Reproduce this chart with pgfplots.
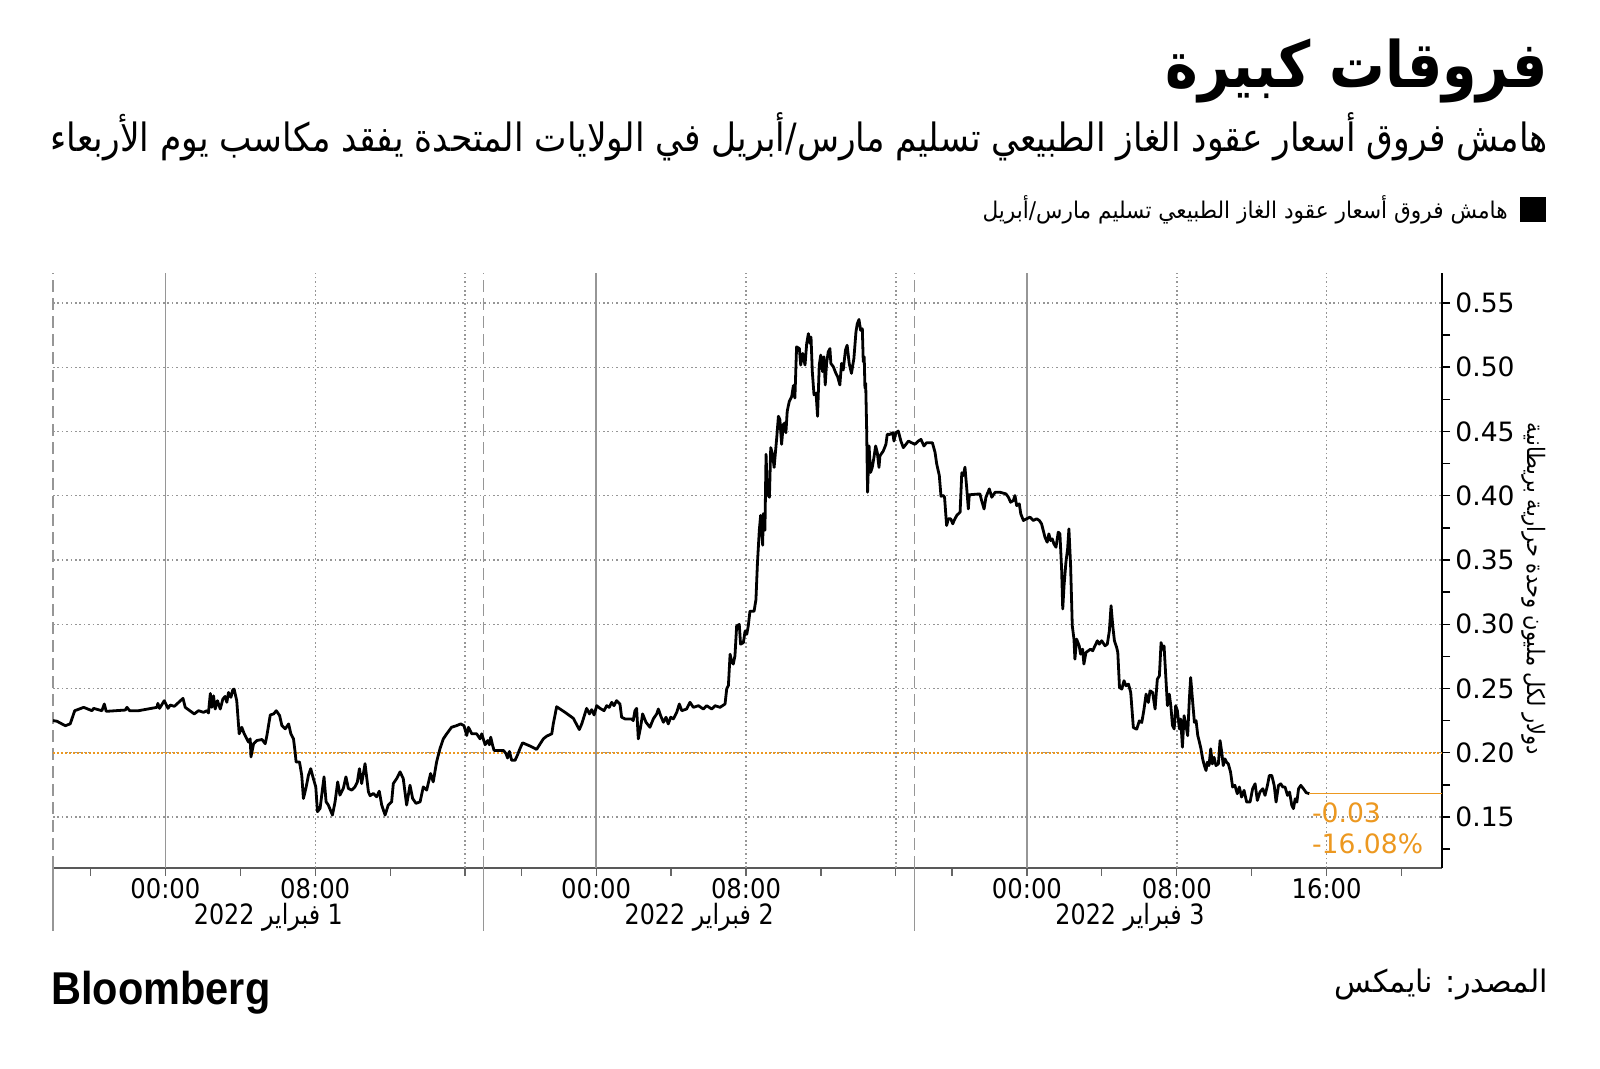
\documentclass[border=0pt]{standalone}
\usepackage{fontspec}
\usepackage{pgfplots}
\pgfplotsset{compat=1.18}
\usepackage{graphicx}
\setmainfont{DejaVu Sans}
\newfontfamily\arabicfont[Script=Arabic]{DejaVu Sans}
\newfontfamily\condfont{DejaVu Sans Condensed}
\newfontfamily\bbgfont{Liberation Sans}
\TeXXeTstate=1
\definecolor{bbgorange}{RGB}{236,152,32}
\definecolor{gridgray}{RGB}{150,150,150}
\newcommand\ar[1]{\arabicfont\beginR #1\endR}

\pgfplotstableread{
x y
0 0.225
0.21 0.2245
0.66 0.221
0.92 0.2225
1.16 0.2327
1.64 0.2353
2.08 0.2327
2.17 0.2345
2.61 0.2327
2.74 0.2379
2.84 0.2322
3.86 0.2332
3.95 0.2353
4.09 0.2327
4.57 0.2327
5.55 0.2353
5.6 0.2384
5.69 0.2345
5.94 0.2405
6.14 0.2345
6.26 0.2371
6.48 0.2361
6.94 0.2423
7.06 0.2353
7.54 0.2302
7.77 0.2327
8.04 0.2314
8.21 0.2327
8.3 0.2309
8.4 0.2461
8.48 0.2353
8.57 0.2443
8.66 0.234
8.78 0.2405
8.93 0.234
9.07 0.2418
9.19 0.2438
9.28 0.2392
9.37 0.2469
9.5 0.2431
9.6 0.249
9.67 0.2495
9.81 0.2405
9.94 0.2147
10.08 0.2198
10.21 0.2147
10.44 0.2082
10.53 0.2108
10.57 0.1967
10.71 0.2070
10.89 0.2095
11.16 0.2103
11.33 0.207
11.42 0.2134
11.6 0.2294
11.78 0.2302
11.92 0.2327
12.1 0.2289
12.22 0.2211
12.4 0.2186
12.58 0.2224
12.7 0.2147
12.84 0.2108
12.93 0.2
12.98 0.1928
13.16 0.1928
13.28 0.1825
13.37 0.1644
13.5 0.1722
13.64 0.1825
13.76 0.1876
13.9 0.1799
14.03 0.1734
14.12 0.1541
14.26 0.1567
14.37 0.1696
14.47 0.1812
14.58 0.1618
14.7 0.1593
14.92 0.1515
15.06 0.1618
15.2 0.1773
15.32 0.167
15.5 0.1722
15.64 0.1812
15.77 0.1722
15.95 0.1709
16.12 0.1734
16.25 0.1773
16.36 0.1876
16.48 0.176
16.66 0.1915
16.84 0.1696
16.93 0.1665
17.1 0.1683
17.28 0.1657
17.42 0.1701
17.55 0.1593
17.73 0.1515
17.9 0.1593
18.08 0.1618
18.17 0.176
18.35 0.1799
18.53 0.1851
18.7 0.1799
18.88 0.1593
19.06 0.1747
19.2 0.1644
19.38 0.1606
19.6 0.1618
19.77 0.1734
19.95 0.1709
20.16 0.1838
20.3 0.1773
20.48 0.1928
20.66 0.2031
20.84 0.2108
21.02 0.2147
21.28 0.2198
21.55 0.2211
21.77 0.2224
21.94 0.2211
22.09 0.2134
22.18 0.2198
22.36 0.2147
22.62 0.2147
22.8 0.2108
22.89 0.2147
23.07 0.2062
23.21 0.2095
23.3 0.2062
23.37 0.2121
23.48 0.2052
23.55 0.2018
24.05 0.2018
24.19 0.1992
24.27 0.1959
24.37 0.201
24.49 0.1941
24.67 0.1941
24.79 0.1979
24.93 0.2031
25.07 0.2077
25.47 0.2052
25.82 0.2026
26.18 0.2108
26.36 0.2129
26.63 0.2147
26.71 0.2224
26.89 0.2358
27.34 0.2314
27.78 0.2268
28.1 0.218
28.23 0.2224
28.49 0.2345
28.64 0.2302
28.76 0.2335
28.89 0.2294
29.03 0.2366
29.21 0.2345
29.42 0.2327
29.56 0.2366
29.7 0.2353
29.83 0.2392
29.95 0.2366
30.09 0.2405
30.27 0.2379
30.36 0.2276
30.54 0.2263
30.89 0.2263
30.98 0.225
31.07 0.2327
31.16 0.2345
31.25 0.2108
31.37 0.2198
31.48 0.2302
31.66 0.2237
31.87 0.2198
32.05 0.2263
32.23 0.2302
32.32 0.234
32.44 0.2289
32.59 0.2237
32.73 0.2276
32.85 0.2224
32.98 0.2276
33.12 0.2263
33.3 0.2314
33.44 0.2379
33.57 0.2327
33.83 0.234
34.01 0.2392
34.19 0.2353
34.46 0.2366
34.72 0.234
34.9 0.2366
35.17 0.234
35.35 0.2366
35.61 0.2353
35.88 0.2379
35.97 0.2497
36.06 0.2523
36.15 0.2767
36.24 0.2703
36.32 0.269
36.41 0.2754
36.5 0.2986
36.64 0.2998
36.71 0.2844
36.86 0.2857
36.95 0.2947
37.04 0.2921
37.12 0.2986
37.21 0.3101
37.43 0.3101
37.53 0.3191
37.61 0.3474
37.71 0.3731
37.78 0.3847
37.83 0.3757
37.89 0.3615
37.92 0.386
38.01 0.3731
38.07 0.4322
38.14 0.4014
38.25 0.3988
38.32 0.4374
38.42 0.4322
38.5 0.4220
38.64 0.4451
38.73 0.4618
38.81 0.4592
38.9 0.4400
38.99 0.4554
39.08 0.4567
39.13 0.4490
39.2 0.4657
39.31 0.4734
39.44 0.4772
39.53 0.4857
39.61 0.4760
39.7 0.5158
39.85 0.5145
39.92 0.5017
40.03 0.5107
40.15 0.5017
40.24 0.5184
40.33 0.5261
40.42 0.5184
40.47 0.5235
40.54 0.4965
40.63 0.4785
40.74 0.4798
40.82 0.4618
40.91 0.5017
40.99 0.5094
41.09 0.4965
41.16 0.5081
41.23 0.4862
41.3 0.5029
41.39 0.5119
41.48 0.5145
41.53 0.5029
41.66 0.5004
41.8 0.4952
41.89 0.4927
42.01 0.4862
42.1 0.5029
42.19 0.4978
42.31 0.5132
42.4 0.5171
42.51 0.5029
42.63 0.4952
42.76 0.5068
42.87 0.5274
42.94 0.5338
43.03 0.5371
43.12 0.5287
43.21 0.5299
43.26 0.5042
43.31 0.5081
43.35 0.4837
43.39 0.4875
43.44 0.4528
43.49 0.4027
43.57 0.4387
43.65 0.4181
43.74 0.4220
43.83 0.4297
43.92 0.4387
44.01 0.4335
44.1 0.4220
44.15 0.4310
44.33 0.4348
44.47 0.44
44.54 0.4477
44.68 0.4477
44.83 0.449
44.9 0.4425
45.0 0.449
45.13 0.4503
45.27 0.4425
45.4 0.4374
45.54 0.44
45.67 0.4425
45.84 0.4412
46.02 0.44
46.2 0.4425
46.34 0.4438
46.5 0.4387
46.64 0.4412
46.95 0.4412
47.09 0.4339
47.18 0.4248
47.32 0.4157
47.41 0.3996
47.54 0.4001
47.6 0.3988
47.71 0.3768
47.8 0.3820
47.93 0.382
48.04 0.3781
48.11 0.3807
48.25 0.3846
48.43 0.3872
48.52 0.4178
48.6 0.4157
48.69 0.4222
48.78 0.4066
48.87 0.3897
48.92 0.4007
49.49 0.4014
49.58 0.3962
49.71 0.3897
49.81 0.3988
49.99 0.4053
50.12 0.3988
50.3 0.4027
50.56 0.4027
50.88 0.4014
51.01 0.3988
51.13 0.3949
51.27 0.3962
51.36 0.4001
51.45 0.3923
51.59 0.3936
51.67 0.3859
51.81 0.3807
51.98 0.382
52.16 0.3833
52.34 0.3807
52.52 0.382
52.66 0.3807
52.78 0.3781
52.96 0.3677
53.08 0.3638
53.17 0.3703
53.26 0.3651
53.35 0.3664
53.44 0.3625
53.55 0.3599
53.67 0.3716
53.76 0.3703
53.85 0.343
53.91 0.3118
53.98 0.33
54.08 0.3482
54.17 0.3586
54.24 0.3742
54.33 0.3456
54.42 0.2988
54.51 0.2884
54.56 0.2728
54.65 0.2884
54.79 0.2832
54.86 0.2767
54.97 0.2806
55.04 0.269
55.15 0.2780
55.27 0.2793
55.4 0.2806
55.51 0.2793
55.63 0.2832
55.76 0.2871
55.86 0.2845
55.99 0.2871
56.17 0.2832
56.29 0.2845
56.4 0.2949
56.49 0.3144
56.58 0.2988
56.67 0.2871
56.79 0.2819
56.85 0.278
56.94 0.2508
57.06 0.2495
57.18 0.256
57.29 0.2521
57.42 0.2534
57.54 0.2469
57.68 0.2196
57.86 0.2183
58.0 0.2248
58.13 0.2235
58.25 0.2339
58.36 0.2456
58.48 0.2391
58.57 0.2482
58.71 0.2469
58.84 0.234
58.96 0.2572
59.07 0.2598
59.16 0.2857
59.25 0.2805
59.32 0.2831
59.41 0.2598
59.5 0.2366
59.6 0.2456
59.68 0.2366
59.77 0.2211
59.86 0.2185
59.94 0.2366
60.03 0.2327
60.14 0.2185
60.21 0.2262
60.3 0.2043
60.39 0.2288
60.49 0.2211
60.58 0.2133
60.67 0.2417
60.74 0.2585
60.85 0.2391
60.94 0.2236
61.03 0.2249
61.12 0.2133
61.21 0.2081
61.29 0.203
61.38 0.1952
61.47 0.19
61.56 0.1862
61.63 0.1926
61.72 0.19
61.81 0.203
61.9 0.1913
61.99 0.1965
62.09 0.19
62.22 0.1913
62.31 0.2094
62.4 0.2004
62.48 0.19
62.57 0.1952
62.66 0.1926
62.75 0.1913
62.87 0.1849
62.98 0.1733
63.1 0.1746
63.23 0.1681
63.34 0.1733
63.46 0.1655
63.59 0.1707
63.73 0.1616
63.91 0.1616
64.05 0.172
64.18 0.1758
64.3 0.1629
64.44 0.1694
64.59 0.172
64.71 0.1668
64.84 0.1746
64.94 0.1823
65.07 0.1823
65.2 0.1746
65.3 0.1616
65.43 0.1746
65.55 0.1758
65.66 0.1733
65.78 0.1733
65.91 0.1668
66.02 0.1694
66.14 0.1590
66.23 0.1565
66.32 0.1642
66.41 0.1616
66.5 0.172
66.62 0.1746
66.76 0.172
66.91 0.1689
67.08 0.1681
}\spread

\begin{document}
\begin{tikzpicture}
\path[use as bounding box] (0pt,0pt) rectangle (800pt,534.5pt);
% title
\node[anchor=east, inner sep=0pt] at (774pt,499pt)
  {\resizebox{191pt}{\height}{\fontsize{32}{36}\selectfont\bfseries\ar{فروقات كبيرة}}};
% subtitle
\node[anchor=east, inner sep=0pt] at (774pt,466pt)
  {\resizebox{748.5pt}{\height}{\fontsize{19.5}{22}\selectfont\ar{هامش فروق أسعار عقود الغاز الطبيعي تسليم مارس/أبريل في الولايات المتحدة يفقد مكاسب يوم الأربعاء}}};
% legend
\fill[black] (760pt,423.5pt) rectangle (773pt,436pt);
\node[anchor=east, inner sep=0pt] at (754pt,429.75pt)
  {\resizebox{262.5pt}{\height}{\fontsize{11.5}{14}\selectfont\ar{هامش فروق أسعار عقود الغاز الطبيعي تسليم مارس/أبريل}}};
% source
\node[anchor=east, inner sep=0pt] at (774pt,42pt)
  {\resizebox{106.5pt}{\height}{\fontsize{15.5}{18}\selectfont\ar{المصدر: نايمكس}}};
% Bloomberg
\node[anchor=base west, inner sep=0pt] at (25.5pt,32pt)
  {\resizebox{109.5pt}{\height}{\bbgfont\fontsize{23}{26}\selectfont\bfseries Bloomberg}};
% y label
\node[rotate=-90, inner sep=0pt] at (767pt,240pt)
  {\resizebox{166pt}{\height}{\fontsize{12}{14}\selectfont\ar{دولار لكل مليون وحدة حرارية بريطانية}}};

\begin{axis}[
  at={(26.5pt,100.5pt)}, anchor=south west,
  scale only axis, width=694.5pt, height=297.5pt,
  xmin=0, xmax=74.16, ymin=0.1103, ymax=0.5733,
  clip=false,
  axis x line*=bottom, axis y line*=right,
  x axis line style={black!65, line width=0.8pt},
  y axis line style={black, line width=0.8pt},
  tick align=outside,
  xtick={6,14,29,37,52,60,68},
  xticklabels={00:00,08:00,00:00,08:00,00:00,08:00,16:00},
  minor xtick={2,10,18,22,25,33,41,45,48,56,64,72},
  x tick style={black!60, line width=0.6pt},
  major tick length=4pt, minor tick length=4pt,
  xticklabel style={font=\condfont\fontsize{13.5}{15}\selectfont, inner sep=0pt, anchor=north, yshift=-1pt},
  ytick={0.15,0.20,0.25,0.30,0.35,0.40,0.45,0.50,0.55},
  minor ytick={0.125,0.175,0.225,0.275,0.325,0.375,0.425,0.475,0.525},
  y tick style={black, line width=0.7pt},
  /pgf/number format/assume math mode=true,
  yticklabel style={font=\fontsize{13.3}{15}\selectfont, anchor=west, inner sep=0pt, xshift=2.5pt,
    /pgf/number format/.cd, fixed, fixed zerofill, precision=2},
  ymajorgrids,
  y grid style={gridgray, line width=0.6pt, dash pattern=on 0.8pt off 1.4pt},
]
% vertical grid lines
\pgfplotsinvokeforeach{6,29,52}{
  \draw[gridgray, line width=0.7pt] (axis cs:#1,0.1103) -- (axis cs:#1,0.5733);
}
\pgfplotsinvokeforeach{14,22,37,45,60,68}{
  \draw[gridgray, line width=0.7pt, dash pattern=on 0.8pt off 1.4pt] (axis cs:#1,0.1103) -- (axis cs:#1,0.5733);
}
\pgfplotsinvokeforeach{0,23,46}{
  \draw[gridgray, line width=0.7pt, dash pattern=on 6pt off 3pt] (axis cs:#1,0.1103) -- (axis cs:#1,0.5733);
  \draw[gridgray, line width=0.6pt] (axis cs:#1,0.1103) -- ++(0pt,-31.5pt);
}
% reference line
\draw[bbgorange, line width=0.8pt, dash pattern=on 0.8pt off 1.2pt] (axis cs:0,0.20) -- (axis cs:74.16,0.20);
\addplot[black, line width=1.4pt, line join=round] table[x=x,y=y] {\spread};
\draw[bbgorange, line width=0.7pt] (axis cs:67.08,0.1681) -- (axis cs:74.16,0.1681);
\node[anchor=west, inner sep=0pt, text=bbgorange, font=\fontsize{13.3}{15}\selectfont] at (axis cs:67.2,0.153) {-0.03};
\node[anchor=west, inner sep=0pt, text=bbgorange, font=\fontsize{13.3}{15}\selectfont] at (axis cs:67.2,0.129) {-16.08\%};
% date labels
\node[inner sep=0pt] at (axis cs:11.5,0.1103) [yshift=-24.5pt]
  {\resizebox{74.5pt}{\height}{\fontsize{14}{16}\selectfont\ar{1 فبراير 2022}}};
\node[inner sep=0pt] at (axis cs:34.5,0.1103) [yshift=-24.5pt]
  {\resizebox{74.5pt}{\height}{\fontsize{14}{16}\selectfont\ar{2 فبراير 2022}}};
\node[inner sep=0pt] at (axis cs:57.5,0.1103) [yshift=-24.5pt]
  {\resizebox{74.5pt}{\height}{\fontsize{14}{16}\selectfont\ar{3 فبراير 2022}}};
\end{axis}
\end{tikzpicture}
\end{document}
